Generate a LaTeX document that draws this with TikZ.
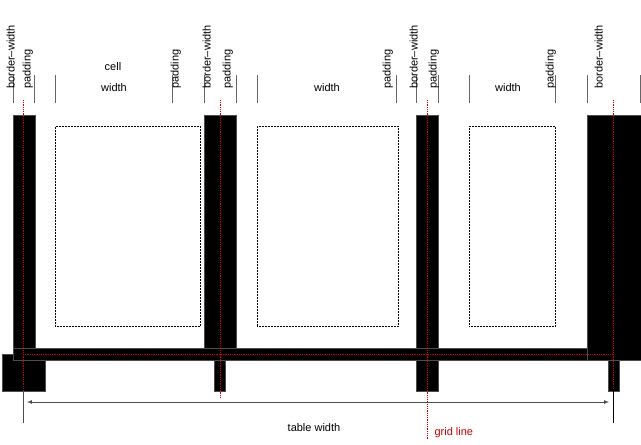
\documentclass[tikz,border=0pt]{standalone}
\usepackage{fontspec}
\setmainfont{Liberation Sans}
\begin{document}
\begin{tikzpicture}[x=1pt,y=-1pt,
  blk/.style={fill=black,draw=black!70,line width=0.4pt},
  cellbox/.style={draw,densely dotted,line width=0.5pt},
  grid/.style={draw=red!80!black,densely dotted,line width=0.8pt},
  tick/.style={draw=black!60,line width=0.8pt},
  rlab/.style={rotate=90,anchor=south west,inner sep=1pt,font=\fontsize{11}{12}\selectfont},
  lab/.style={font=\fontsize{11}{12}\selectfont}]
\useasboundingbox (0,0) rectangle (641,445);
% black borders
\fill[blk] (13,115) rectangle (35,354);
\fill[blk] (2,354) rectangle (45,391);
\fill[blk] (13,348) rectangle (641,360);
\fill[blk] (204,115) rectangle (236,348);
\fill[blk] (214,360) rectangle (225,391);
\fill[blk] (416,115) rectangle (438,348);
\fill[blk] (416,360) rectangle (438,391);
\fill[blk] (587,115) rectangle (641,360);
\fill[blk] (608,360) rectangle (619,391);
% cells
\node[cellbox,minimum width=145,minimum height=200,anchor=north west] (c1) at (55,126) {};
\node[cellbox,minimum width=141,minimum height=200,anchor=north west] (c2) at (257,126) {};
\node[cellbox,minimum width=86,minimum height=200,anchor=north west] (c3) at (469,126) {};
% grid lines
\draw[grid] (23,100) -- (23,400);
\draw[grid] (220,100) -- (220,398);
\draw[grid] (427,100) -- (427,440);
\draw[grid] (613,100) -- (613,390);
\draw[grid] (23,354) -- (613,354);
% ticks
\foreach \x in {13,34,55,172,204,236,257,396,416,438,469,555,587,640}
  \draw[tick] (\x,75) -- (\x,103);
% rotated labels
\foreach \x/\t in {16/border--width,34/padding,182/padding,212/border--width,234/padding,394/padding,419/border--width,440/padding,557/padding,604/border--width}
  \node[rlab] at (\x,90) {\t};
\node[lab] (cl) at (113,67) {cell};
\node[lab] (w1) at (114,88) {width};
\node[lab] (w2) at (327,88) {width};
\node[lab] (w3) at (508,88) {width};
% table width
\coordinate (l) at (23,390);
\coordinate (r) at (613,390);
\draw[black!70,line width=0.7pt] (l) -- (23,423);
\draw[black,line width=0.7pt] (r) -- (613,423);
\draw[black!70,line width=0.7pt,<->,>=latex] (27,402) -- (609,402);
\node[lab] (tw) at (314,428) {table width};
\node[lab,text=red!80!black,anchor=west] (gl) at (431,433) {grid line};
\end{tikzpicture}
\end{document}
